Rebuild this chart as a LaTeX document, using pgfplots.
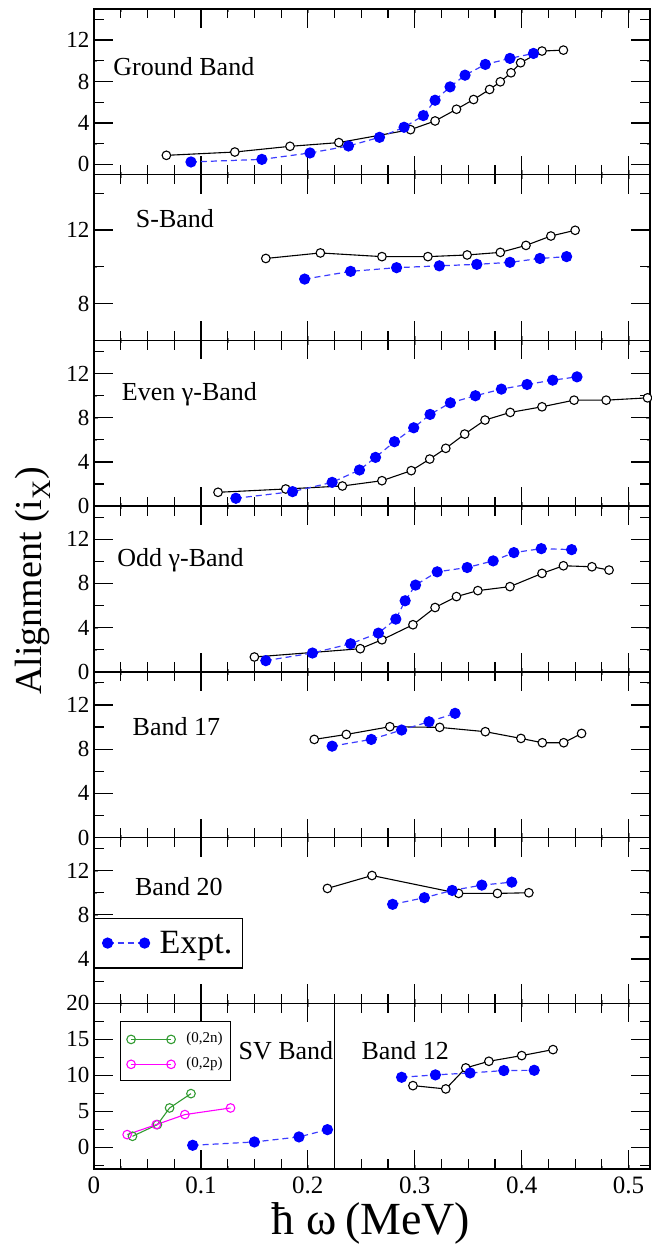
\documentclass[border=0pt]{standalone}
\usepackage{fontspec}
\setmainfont{Liberation Serif}
\usepackage{pgfplots}
\pgfplotsset{compat=1.18}

\definecolor{expblue}{RGB}{0,0,255}
\definecolor{explight}{RGB}{60,60,255}
\definecolor{gr}{RGB}{50,155,50}
\definecolor{mg}{RGB}{255,0,255}

\tikzset{bl/.style={font=\fontsize{26}{26}\selectfont, anchor=west, inner sep=0pt},
  tkl/.style={black, line width=1.2pt}}

\pgfplotsset{
  panel/.style={
    scale only axis, width=556pt, height=165.7pt,
    xmin=0, xmax=0.52,
    xtick={0,0.1,0.2,0.3,0.4,0.5},
    minor x tick num=3,
    tick align=inside,
    yticklabel pos=left,
    axis line style={line width=1.4pt, black},
    /pgf/number format/assume math mode=true,
    yticklabel style={font=\fontsize{23}{23}\selectfont, xshift=-1pt},
    xticklabel style={font=\fontsize{25}{25}\selectfont, yshift=-4pt},
  },
  nox/.style={xticklabels={}},
  th/.style={black, line width=1.1pt, mark=*, mark size=4.3pt,
    mark options={fill=white, draw=black, line width=1.1pt, solid}},
  ex/.style={explight, line width=1.2pt, dash pattern=on 6pt off 4pt, mark=*, mark size=5pt,
    mark options={fill=expblue, draw=expblue, solid}},
}

% frame tick marks, drawn as short segments in axis units
% #1 ymin, #2 ymin+major, #3 ymin+minor, #4 ymax, #5 ymax-major, #6 ymax-minor
\newcommand\xtk[6]{%
  \pgfplotsinvokeforeach{0.1,0.2,0.3,0.4,0.5}{%
    \addplot[tkl, forget plot] coordinates {(##1,#1) (##1,#2)};
    \addplot[tkl, forget plot] coordinates {(##1,#4) (##1,#5)};}%
  \pgfplotsinvokeforeach{0.025,0.05,0.075,0.125,0.15,0.175,0.225,0.25,0.275,0.325,0.35,0.375,0.425,0.45,0.475}{%
    \addplot[tkl, forget plot] coordinates {(##1,#1) (##1,#3)};
    \addplot[tkl, forget plot] coordinates {(##1,#4) (##1,#6)};}%
}
% #1 major y values, #2 minor y values
\newcommand\ytk[2]{%
  \pgfplotsinvokeforeach{#1}{%
    \addplot[tkl, forget plot] coordinates {(0,##1) (0.0178,##1)};
    \addplot[tkl, forget plot] coordinates {(0.52,##1) (0.5022,##1)};}%
  \pgfplotsinvokeforeach{#2}{%
    \addplot[tkl, forget plot] coordinates {(0,##1) (0.0089,##1)};
    \addplot[tkl, forget plot] coordinates {(0.52,##1) (0.5111,##1)};}%
}

\begin{document}
\begin{tikzpicture}
\path[use as bounding box] (-94pt,9pt) rectangle (557pt,-1236pt);

% Panel 1: Ground Band
\begin{axis}[panel, nox, at={(0pt,0pt)}, anchor=north west,
  ymin=-1, ymax=15, ytick={0,4,8,12}, minor ytick={2,6,10,14}]
\xtk{-1}{0.835}{-0.083}{15}{13.165}{14.083}
\ytk{0,4,8,12}{2,6,10,14}
\addplot[th] coordinates {(0.0677,0.87) (0.1317,1.19) (0.1833,1.74) (0.229,2.10) (0.296,3.35) (0.319,4.19) (0.339,5.32) (0.355,6.26) (0.370,7.23) (0.380,7.97) (0.390,8.84) (0.399,9.81) (0.419,10.94) (0.439,11.03)};
\addplot[ex] coordinates {(0.0907,0.23) (0.157,0.48) (0.202,1.10) (0.238,1.77) (0.267,2.61) (0.290,3.58) (0.308,4.71) (0.319,6.19) (0.333,7.48) (0.347,8.61) (0.366,9.65) (0.389,10.23) (0.411,10.71)};
\node[bl] at (axis cs:0.018,9.4) {Ground Band};
\end{axis}

% Panel 2: S-Band
\begin{axis}[panel, nox, at={(0pt,-165.7pt)}, anchor=north west,
  ymin=6, ymax=15, ytick={8,12}, minor ytick={10,14}]
\xtk{6}{7.032}{6.516}{15}{13.968}{14.484}
\ytk{8,12}{10,14}
\addplot[th] coordinates {(0.1607,10.45) (0.2117,10.75) (0.2693,10.55) (0.3123,10.55) (0.349,10.64) (0.38,10.78) (0.404,11.16) (0.4273,11.67) (0.45,11.98)};
\addplot[ex] coordinates {(0.197,9.33) (0.24,9.75) (0.283,9.95) (0.323,10.05) (0.358,10.13) (0.389,10.24) (0.417,10.45) (0.442,10.55)};
\node[bl] at (axis cs:0.039,12.6) {S-Band};
\end{axis}

% Panel 3: Even gamma band
\begin{axis}[panel, nox, at={(0pt,-331.4pt)}, anchor=north west,
  ymin=0, ymax=15, ytick={0,4,8,12}, minor ytick={2,6,10,14}]
\xtk{0}{1.72}{0.86}{15}{13.28}{14.14}
\ytk{4,8,12}{2,6,10,14}
\addplot[th] coordinates {(0.116,1.25) (0.1793,1.55) (0.2323,1.82) (0.2693,2.30) (0.2967,3.21) (0.314,4.26) (0.329,5.23) (0.3467,6.52) (0.3657,7.79) (0.3893,8.48) (0.419,8.99) (0.449,9.59) (0.479,9.59) (0.5177,9.80)};
\addplot[ex] coordinates {(0.1327,0.71) (0.1857,1.31) (0.2227,2.15) (0.2483,3.27) (0.2633,4.41) (0.281,5.83) (0.299,7.09) (0.3143,8.30) (0.3333,9.35) (0.3567,9.99) (0.381,10.59) (0.405,11.01) (0.429,11.40) (0.4517,11.70)};
\node[bl] at (axis cs:0.026,10.1) {Even γ-Band};
\end{axis}

% Panel 4: Odd gamma band
\begin{axis}[panel, nox, at={(0pt,-497.1pt)}, anchor=north west,
  ymin=0, ymax=15, ytick={0,4,8,12}, minor ytick={2,6,10,14}]
\xtk{0}{1.72}{0.86}{15}{13.28}{14.14}
\ytk{4,8,12}{2,6,10,14}
\addplot[th] coordinates {(0.15,1.34) (0.249,2.09) (0.2693,2.90) (0.2983,4.26) (0.319,5.82) (0.339,6.81) (0.359,7.35) (0.389,7.71) (0.419,8.91) (0.439,9.60) (0.4657,9.51) (0.4817,9.21)};
\addplot[ex] coordinates {(0.1607,1.01) (0.2043,1.70) (0.24,2.54) (0.266,3.50) (0.2823,4.77) (0.291,6.43) (0.3007,7.85) (0.321,9.05) (0.349,9.44) (0.3733,10.04) (0.3927,10.79) (0.4183,11.15) (0.4467,11.06)};
\node[bl] at (axis cs:0.0217,10.1) {Odd γ-Band};
\end{axis}

% Panel 5: Band 17
\begin{axis}[panel, nox, at={(0pt,-662.8pt)}, anchor=north west,
  ymin=0, ymax=15, ytick={0,4,8,12}, minor ytick={2,6,10,14}]
\xtk{0}{1.72}{0.86}{15}{13.28}{14.14}
\ytk{4,8,12}{2,6,10,14}
\addplot[th] coordinates {(0.206,8.88) (0.236,9.33) (0.2767,10.03) (0.3233,9.97) (0.366,9.58) (0.3993,8.97) (0.4193,8.58) (0.4393,8.58) (0.456,9.42)};
\addplot[ex] coordinates {(0.2227,8.27) (0.2593,8.88) (0.2877,9.73) (0.3133,10.48) (0.3377,11.24)};
\node[bl] at (axis cs:0.036,10.0) {Band 17};
\end{axis}

% Panel 6: Band 20
\begin{axis}[panel, nox, at={(0pt,-828.5pt)}, anchor=north west,
  ymin=0, ymax=15, ytick={4,8,12}, minor ytick={2,6,10,14},
  legend style={at={(0,0.5167)}, anchor=north west, draw=black, line width=1.2pt,
    font=\fontsize{34}{34}\selectfont, inner xsep=8pt, inner ysep=11pt,
    nodes={inner sep=2pt},
    /tikz/every odd column/.append style={column sep=8pt}},
  legend cell align=left,
  legend image code/.code={\draw[#1] plot coordinates {(0pt,0pt) (37pt,0pt)};}]
\xtk{0}{1.72}{0.86}{15}{13.28}{14.14}
\ytk{4,8,12}{2,6,10,14}
\addplot[th, forget plot] coordinates {(0.2183,10.39) (0.26,11.56) (0.341,9.94) (0.3773,9.94) (0.4067,10.0)};
\addplot[ex] coordinates {(0.2793,8.95) (0.309,9.55) (0.335,10.21) (0.3627,10.69) (0.3907,10.96)};
\addlegendentry{Expt.}
\node[bl] at (axis cs:0.0383,10.6) {Band 20};
\end{axis}

% Panel 7: SV Band / Band 12
\begin{axis}[panel, at={(0pt,-994.2pt)}, anchor=north west,
  ymin=-3, ymax=20, ytick={0,5,10,15,20}, minor ytick={-2.5,2.5,7.5,12.5,17.5},
  legend style={at={(0.0471,0.8935)}, anchor=north west, draw=black, line width=1.2pt,
    font=\fontsize{15}{15}\selectfont, inner xsep=6pt, inner ysep=9pt,
    nodes={inner sep=2pt}, row sep=9pt,
    /tikz/every odd column/.append style={column sep=9pt}},
  legend cell align=left,
  legend image code/.code={\draw[#1] plot coordinates {(0pt,-1pt) (40pt,-1pt)};}]
\xtk{-3}{-0.363}{-1.681}{20}{17.363}{18.681}
\ytk{0,5,10,15}{-2.5,2.5,7.5,12.5,17.5}
\addplot[black, line width=1pt, forget plot] coordinates {(0.225,-3) (0.225,20)};
\addplot[gr, line width=1.1pt, mark=o, mark size=4.3pt, mark options={fill=white, line width=1.1pt}] coordinates {(0.036,1.53) (0.0593,3.15) (0.0707,5.46) (0.0907,7.45)};
\addlegendentry{(0,2n)}
\addplot[mg, line width=1.1pt, mark=o, mark size=4.3pt, mark options={fill=white, line width=1.1pt}] coordinates {(0.031,1.76) (0.0583,3.15) (0.085,4.54) (0.1277,5.46)};
\addlegendentry{(0,2p)}
\addplot[ex, forget plot] coordinates {(0.0923,0.28) (0.15,0.74) (0.1917,1.44) (0.2183,2.45)};
\addplot[th, forget plot] coordinates {(0.2983,8.56) (0.329,8.10) (0.3477,11.02) (0.3693,11.94) (0.4,12.73) (0.4293,13.56)};
\addplot[ex, forget plot] coordinates {(0.2877,9.72) (0.3193,10.05) (0.3517,10.32) (0.3833,10.65) (0.4117,10.69)};
\node[bl] at (axis cs:0.135,13.47) {SV Band};
\node[bl] at (axis cs:0.25,13.47) {Band 12};
\end{axis}

\node[rotate=90, font=\fontsize{38}{38}\selectfont] at (-61pt,-572pt) {Alignment (i\textsubscript{X})};
\node[font=\fontsize{46}{46}\selectfont] at (277pt,-1214pt) {ħ\hspace{12pt}ω\hspace{8pt}(MeV)};
\end{tikzpicture}
\end{document}
